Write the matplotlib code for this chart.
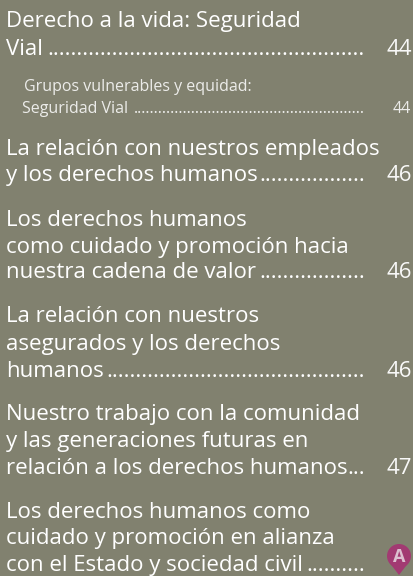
import matplotlib
matplotlib.use("Agg")
import matplotlib.pyplot as plt
from matplotlib.patches import Polygon, Circle

W, H = 414, 576
bg = "#81816f"
fg = "#ffffff"
pin = "#a23a72"

big_lines = ["Derecho a la vida: Seguridad",
             "Vial ",
             "La relación con nuestros empleados",
             "y los derechos humanos",
             "Los derechos humanos",
             "como cuidado y promoción hacia",
             "nuestra cadena de valor",
             "La relación con nuestros",
             "asegurados y los derechos",
             "humanos",
             "Nuestro trabajo con la comunidad",
             "y las generaciones futuras en",
             "relación a los derechos humanos",
             "Los derechos humanos como",
             "cuidado y promoción en alianza",
             "con el Estado y sociedad civil"]
big_y = [27, 55, 155, 181, 226, 253, 278, 322, 350, 377, 420, 447, 474, 518, 544, 571]
# dots after the line, per big_lines index
big_dots = {1: 54, 3: 18, 6: 18, 9: 44, 12: 3, 15: 10}

small_lines = ["Grupos vulnerables y equidad:", "Seguridad Vial"]
small_x = [24, 22]
small_y = [91, 113]
small_dots = 56

pages_big = ["44", "46", "46", "46", "47"]
pages_big_y = [55, 181, 278, 377, 474]
page_small = "44"
page_small_y = 113

plt.rcParams["font.family"] = ["Open Sans", "DejaVu Sans"]
big_size = 16
small_size = 11.5
dots_end = 365

fig = plt.figure(figsize=(W / 100, H / 100), dpi=100, facecolor=bg)
ax = fig.add_axes([0, 0, 1, 1])
ax.set_xlim(0, W)
ax.set_ylim(H, 0)
ax.axis("off")

for i, (t, y) in enumerate(zip(big_lines, big_y)):
    ax.text(6, y, t, color=fg, fontsize=big_size, va="baseline", ha="left")
    if i in big_dots:
        ax.text(dots_end, y, "." * big_dots[i], color=fg, fontsize=big_size, va="baseline", ha="right")
for t, x, y in zip(small_lines, small_x, small_y):
    ax.text(x, y, t, color=fg, fontsize=small_size, va="baseline", ha="left", alpha=0.85)
ax.text(dots_end, small_y[1], "." * small_dots, color=fg, fontsize=small_size, va="baseline", ha="right", alpha=0.85)
for t, y in zip(pages_big, pages_big_y):
    ax.text(412, y, t, color=fg, fontsize=big_size, va="baseline", ha="right", alpha=0.95)
ax.text(411, page_small_y, page_small, color=fg, fontsize=small_size, va="baseline", ha="right", alpha=0.85)

# pin marker
ax.add_patch(Polygon([(389, 562), (399, 575), (409, 562)], closed=True, fc=pin, ec="none"))
ax.add_patch(Circle((399, 556), 12, fc=pin, ec="none"))
ax.text(399, 562, "A", color="#dcc0d0", fontsize=13, fontweight="bold", ha="center", va="baseline")

fig.savefig("out.png", dpi=100, facecolor=bg)
